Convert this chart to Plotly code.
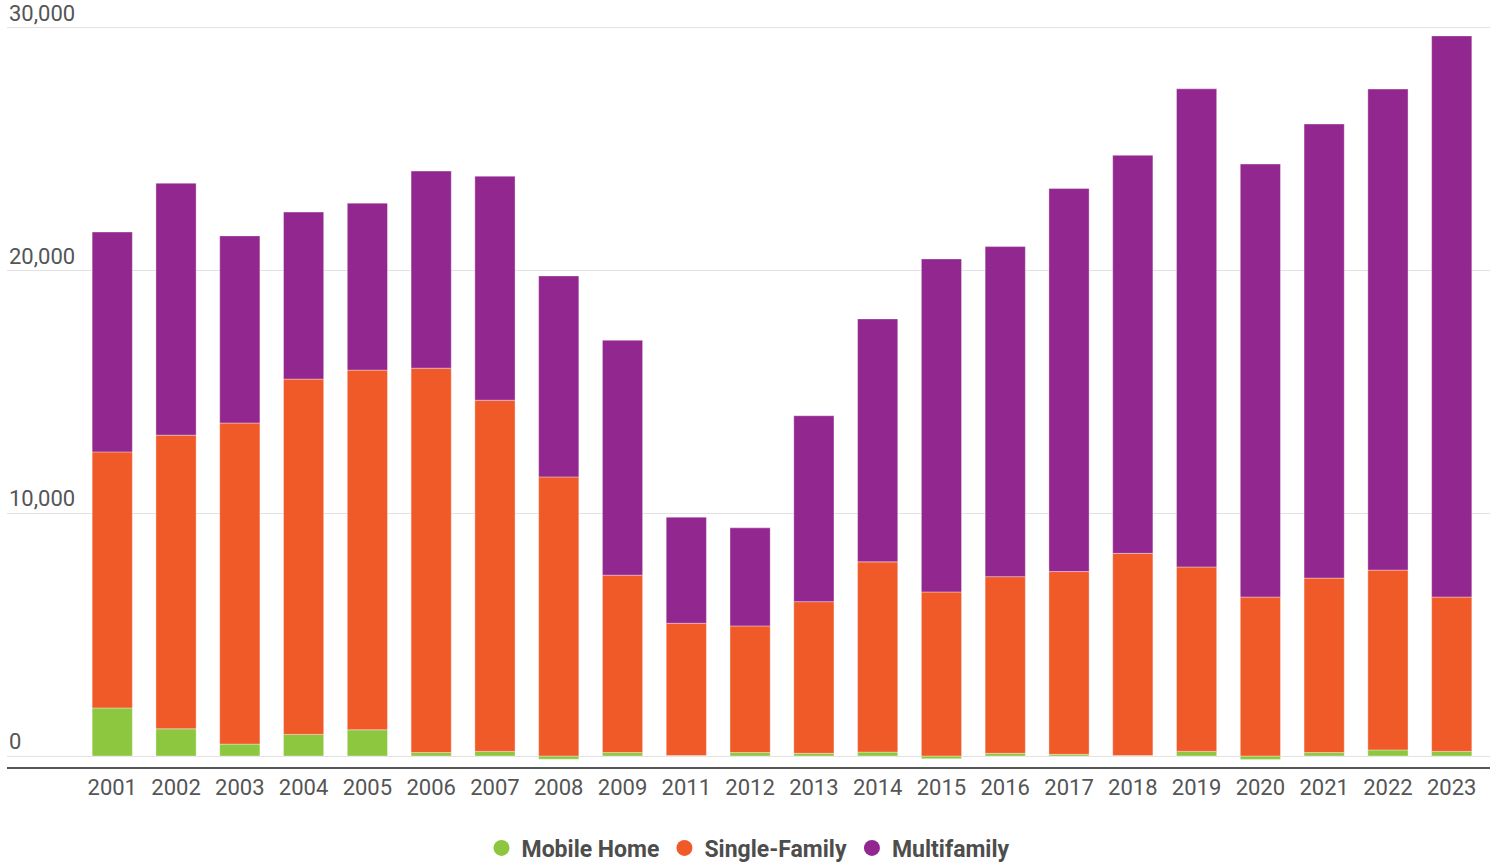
import plotly.graph_objects as go

years = ["2001", "2002", "2003", "2004", "2005", "2006", "2007", "2008", "2009", "2011",
         "2012", "2013", "2014", "2015", "2016", "2017", "2018", "2019", "2020", "2021",
         "2022", "2023"]
mobile_home = [1980, 1120, 490, 890, 1080, 140, 190, -130, 140, 20,
               140, 110, 160, -110, 110, 70, 20, 190, -140, 140,
               250, 190]
single_family = [10550, 12100, 13230, 14640, 14820, 15840, 14470, 11500, 7310, 5450,
                 5220, 6250, 7840, 6760, 7280, 7530, 8330, 7600, 6550, 7190,
                 7410, 6360]
multifamily = [9060, 10380, 7710, 6880, 6880, 8120, 9230, 8280, 9680, 4370,
               4040, 7660, 10010, 13720, 13600, 15780, 16400, 19700, 17840, 18710,
               19820, 23120]
y_ticks = [0, 10000, 20000, 30000]
y_tick_labels = ["0", "10,000", "20,000", "30,000"]

series = [
    ("Mobile Home", mobile_home, "#8dc63f"),
    ("Single-Family", single_family, "#f05a28"),
    ("Multifamily", multifamily, "#92278f"),
]

fig = go.Figure()
for name, vals, color in series:
    fig.add_trace(go.Bar(
        x=years, y=vals, name=name, showlegend=False,
        marker=dict(color=color, line=dict(color="rgba(255,255,255,0.6)", width=0.6)),
        width=0.63,
    ))
for name, vals, color in series:
    fig.add_trace(go.Scatter(
        x=[None], y=[None], mode="markers", name=name,
        marker=dict(color=color, size=16, symbol="circle"),
    ))

for v, t in zip(y_ticks, y_tick_labels):
    fig.add_annotation(
        x=0, xref="paper", y=v, yref="y", text=t, showarrow=False,
        xanchor="left", yanchor="bottom", yshift=0,
        font=dict(family="Roboto", size=22, color="#555555"),
    )

fig.update_layout(
    width=1491, height=865,
    barmode="relative",
    plot_bgcolor="white", paper_bgcolor="white",
    margin=dict(l=7, r=1, t=0, b=98, autoexpand=False),
    font=dict(family="Roboto", color="#555555"),
    legend=dict(
        orientation="h", x=0.5, xanchor="center", y=-0.1056, yanchor="middle",
        font=dict(family="Roboto", size=23, color="#4d4d4d", weight="bold"),
        itemclick=False, traceorder="normal", itemwidth=30,
    ),
    xaxis=dict(
        type="category", range=[-1.65, 21.6],
        showgrid=False, showline=True, linecolor="#555555", linewidth=2,
        ticks="", tickfont=dict(size=22, color="#555555"),
        fixedrange=True,
    ),
    yaxis=dict(
        range=[-453, 31150],
        tickvals=y_ticks,
        showticklabels=False,
        showgrid=True, gridcolor="#e2e2e2", gridwidth=1,
        zeroline=False, showline=False, ticks="",
        fixedrange=True,
    ),
)

fig.write_html(
    "out.html",
    config={"displayModeBar": False},
    post_script="document.body.style.margin='0';document.body.style.overflow='hidden';",
)
